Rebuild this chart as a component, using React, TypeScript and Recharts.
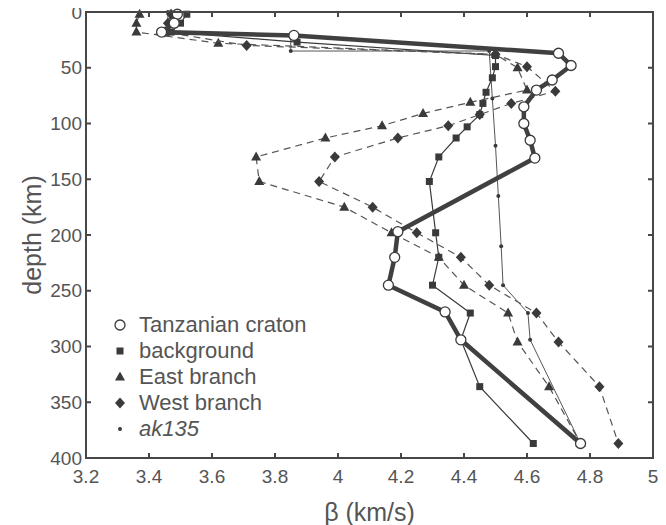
import React from "react";
import { ScatterChart, Scatter, XAxis, YAxis, Legend } from "recharts";

const BETA_TICKS = [3.2, 3.4, 3.6, 3.8, 4, 4.2, 4.4, 4.6, 4.8, 5];
const DEPTH_TICKS = [0, 50, 100, 150, 200, 250, 300, 350, 400];

// Tanzanian craton (thick line, open circles)
const cratonDepth = [2, 10, 18, 21, 37, 48, 61, 70, 85, 100, 115, 131, 197, 220, 245, 269, 294, 387];
const cratonBeta = [3.49, 3.48, 3.44, 3.86, 4.7, 4.74, 4.68, 4.63, 4.59, 4.59, 4.61, 4.625, 4.19, 4.18, 4.16, 4.34, 4.39, 4.77];

// background (thin line, squares)
const bgDepth = [2, 10, 18, 27, 39, 49, 59, 72, 82, 92, 103, 113, 130, 152, 198, 220, 245, 270, 294, 336, 387];
const bgBeta = [3.52, 3.5, 3.47, 3.87, 4.5, 4.5, 4.49, 4.47, 4.46, 4.45, 4.41, 4.375, 4.32, 4.29, 4.31, 4.32, 4.3, 4.42, 4.39, 4.45, 4.62];

// East branch (dashed, triangles)
const eastDepth = [2, 10, 18, 28, 38, 50, 70, 81, 91, 102, 113, 130, 152, 175, 198, 220, 245, 270, 296, 336, 387];
const eastBeta = [3.37, 3.36, 3.36, 3.62, 4.5, 4.57, 4.6, 4.42, 4.27, 4.14, 3.96, 3.74, 3.75, 4.02, 4.17, 4.32, 4.4, 4.54, 4.57, 4.67, 4.77];

// West branch (dashed, diamonds)
const westDepth = [2, 10, 18, 30, 38, 49, 71, 82, 92, 102, 113, 130, 152, 175, 198, 220, 245, 270, 296, 336, 387];
const westBeta = [3.47, 3.46, 3.45, 3.71, 4.5, 4.6, 4.69, 4.55, 4.45, 4.35, 4.19, 3.99, 3.94, 4.11, 4.25, 4.39, 4.48, 4.63, 4.7, 4.83, 4.89];

// ak135 reference (thin line, dots)
const akDepth = [0, 20, 20, 35, 35, 77.5, 120, 165, 210, 245, 270, 294, 387];
const akBeta = [3.46, 3.46, 3.85, 3.85, 4.48, 4.49, 4.5, 4.509, 4.518, 4.524, 4.603, 4.61, 4.77];

const LEGEND_NAMES = ["Tanzanian craton", "background", "East branch", "West branch", "ak135"];

const INK = "#3a3a3a";
const AXIS = "#474747";
const TEXT = "#555";
const FONT = "'Liberation Sans', Arial, Helvetica, sans-serif";

const zip = (d: number[], b: number[]) => d.map((v, i) => ({ d: v, b: b[i] }));

const craton = zip(cratonDepth, cratonBeta);
const background = zip(bgDepth, bgBeta);
const east = zip(eastDepth, eastBeta);
const west = zip(westDepth, westBeta);
const ak135 = zip(akDepth, akBeta);

function OpenCircle(p: any) {
  return <circle cx={p.cx} cy={p.cy} r={5} fill="#fff" stroke={INK} strokeWidth={1.3} />;
}
function Square(p: any) {
  return <rect x={p.cx - 3.5} y={p.cy - 3.5} width={7} height={7} fill={INK} />;
}
function Triangle(p: any) {
  const { cx, cy } = p;
  return <polygon points={`${cx},${cy - 5.5} ${cx + 5},${cy + 3.5} ${cx - 5},${cy + 3.5}`} fill={INK} />;
}
function Diamond(p: any) {
  const { cx, cy } = p;
  return <polygon points={`${cx},${cy - 5.5} ${cx + 5},${cy} ${cx},${cy + 5.5} ${cx - 5},${cy}`} fill={INK} />;
}
function Dot(p: any) {
  return <circle cx={p.cx} cy={p.cy} r={2} fill={INK} />;
}

const MARKERS = [OpenCircle, Square, Triangle, Diamond, Dot];

function LegendBox() {
  return (
    <div style={{ fontFamily: FONT, fontSize: 22, color: TEXT }}>
      {LEGEND_NAMES.map((name, i) => {
        const M = MARKERS[i];
        return (
          <div key={name} style={{ display: "flex", alignItems: "center", height: 26 }}>
            <svg width={18} height={18} style={{ marginRight: 10 }}>
              <M cx={9} cy={9} />
            </svg>
            <span style={{ fontStyle: i === 4 ? "italic" : "normal" }}>{name}</span>
          </div>
        );
      })}
    </div>
  );
}

const noLabel = () => "";

// plot box of the chart (left/top margins + axis sizes below)
const PLOT = { left: 86, top: 12, width: 567, height: 446 };

export default function App() {
  const tickStyle = { fill: TEXT, fontSize: 19, fontFamily: FONT };
  return (
    <div style={{ margin: "-8px -8px 0 -8px", position: "relative", width: 666, height: 525 }}>
      <ScatterChart width={666} height={525} margin={{ top: 0, right: 0, bottom: 0, left: 16 }}>
        <XAxis
          dataKey="b"
          type="number"
          domain={[3.2, 5]}
          ticks={BETA_TICKS}
          interval={0}
          height={67}
          stroke={AXIS}
          strokeWidth={2}
          tickSize={-5}
          tickMargin={17}
          tick={tickStyle}
          label={{ value: "β (km/s)", position: "insideBottom", offset: 4, fill: TEXT, fontSize: 25, fontFamily: FONT }}
        />
        <XAxis xAxisId="top" dataKey="b" orientation="top" type="number" domain={[3.2, 5]} ticks={BETA_TICKS} interval={0} height={12} stroke={AXIS} strokeWidth={2} tickSize={-5} tickFormatter={noLabel} />
        <YAxis
          dataKey="d"
          type="number"
          domain={[0, 400]}
          reversed
          ticks={DEPTH_TICKS}
          interval={0}
          width={70}
          stroke={AXIS}
          strokeWidth={2}
          tickSize={-5}
          tickMargin={9}
          tick={tickStyle}
          label={{ value: "depth (km)", angle: -90, position: "insideLeft", offset: 16, fill: TEXT, fontSize: 25, fontFamily: FONT, style: { textAnchor: "middle" } }}
        />
        <YAxis yAxisId="right" dataKey="d" orientation="right" type="number" domain={[0, 400]} reversed ticks={DEPTH_TICKS} interval={0} width={13} stroke={AXIS} strokeWidth={2} tickSize={-5} tickFormatter={noLabel} />
        <Legend
          layout="horizontal"
          verticalAlign="middle"
          align="center"
          content={() => <LegendBox />}
          wrapperStyle={{ left: 111, top: 312, width: 240, height: 130 }}
        />
        <Scatter name="ak135" data={ak135} xAxisId="top" yAxisId="right" fill={INK} line={{ stroke: "#555", strokeWidth: 1 }} shape={Dot} isAnimationActive={false} />
        <Scatter name="background" data={background} fill={INK} line={{ stroke: INK, strokeWidth: 1.2 }} shape={Square} isAnimationActive={false} />
        <Scatter name="East branch" data={east} fill={INK} line={{ stroke: "#555", strokeWidth: 1.2, strokeDasharray: "7 5" }} shape={Triangle} isAnimationActive={false} />
        <Scatter name="West branch" data={west} fill={INK} line={{ stroke: "#555", strokeWidth: 1.2, strokeDasharray: "7 5" }} shape={Diamond} isAnimationActive={false} />
        <Scatter name="Tanzanian craton" data={craton} fill={INK} line={{ stroke: "#404040", strokeWidth: 4.5 }} shape={OpenCircle} isAnimationActive={false} />
      </ScatterChart>
      {/* box frame around the plot area */}
      <div
        style={{
          position: "absolute",
          left: PLOT.left - 1,
          top: PLOT.top - 1,
          width: PLOT.width + 2,
          height: PLOT.height + 2,
          boxSizing: "border-box",
          border: `2px solid ${AXIS}`,
          pointerEvents: "none",
        }}
      />
    </div>
  );
}
